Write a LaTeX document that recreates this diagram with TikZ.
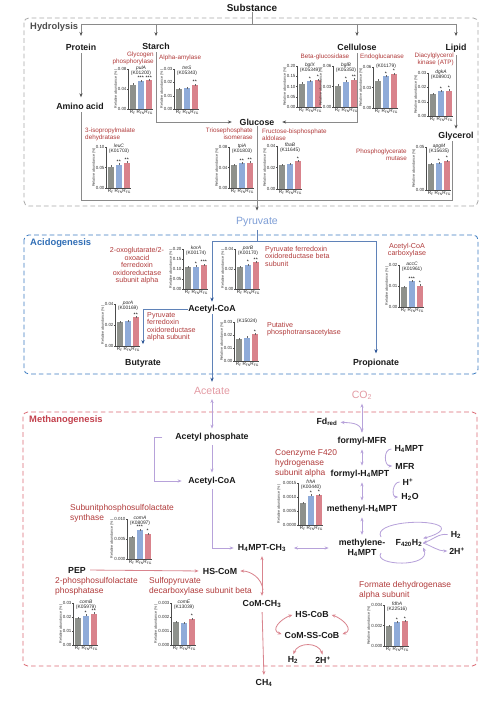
\documentclass[tikz,border=0pt]{standalone}
\usepackage{fontspec}
\setmainfont{Liberation Sans}
\usetikzlibrary{arrows.meta}
\definecolor{enz}{HTML}{B03A3A}
\definecolor{hgray}{HTML}{8A8A8A}
\definecolor{harr}{HTML}{505050}
\definecolor{boxg}{HTML}{A8A8A8}
\definecolor{boxb}{HTML}{3B7BC0}
\definecolor{secb}{HTML}{2F6DB5}
\definecolor{lineb}{HTML}{5F82B8}
\definecolor{arrb}{HTML}{2B5496}
\definecolor{pyrc}{HTML}{7E9ED6}
\definecolor{pinkt}{HTML}{E39AA3}
\definecolor{boxr}{HTML}{DB6A74}
\definecolor{secr}{HTML}{C2404C}
\definecolor{lav}{HTML}{B7A2DA}
\definecolor{pinkl}{HTML}{D9848E}
\definecolor{cg}{HTML}{8E918C}
\definecolor{cb}{HTML}{8FABD9}
\definecolor{cr}{HTML}{D9838C}
\definecolor{txt}{HTML}{1A1A1A}
\def\splitbars#1/#2/#3\relax{\def\brG{#1}\def\brB{#2}\def\brR{#3}}
\def\splitstars#1/#2/#3\relax{\def\stG{#1}\def\stB{#2}\def\stR{#3}}
\newcommand\chart[8][12]{%
\begin{scope}[shift={(#2,#3)}]
\splitbars#6\relax
\splitstars#8\relax
\fill[cg] (1.5,0) rectangle (8,{-\brG*#4});
\fill[cb] (9.5,0) rectangle (16,{-\brB*#4});
\fill[cr] (17.5,0) rectangle (24,{-\brR*#4});
\draw[eb] (4.75,{-\brG*#4+0.8}) -- ++(0,-2);
\draw[eb] (12.75,{-\brB*#4+0.8}) -- ++(0,-2);
\draw[eb] (20.75,{-\brR*#4+0.8}) -- ++(0,-2);
\draw[cax] (0,{-#4}) -- (0,0) -- (25,0);
\foreach \f/\l in {#5}{\draw[cax] (-1,{-\f*#4}) -- (0,{-\f*#4});
  \node[ctk,anchor=east] at (-1.3,{-\f*#4}) {\l};}
\node[crl,rotate=90] at (-#1,{-#4/2}) {Relative abundance (\%)};
\node[cxl] at (4.75,3.4) {R\textsubscript{F}};
\node[cxl] at (12.75,3.4) {R\textsubscript{FN}};
\node[cxl] at (20.75,3.4) {R\textsubscript{FG}};
\node[cgl,anchor=north] at (13,{-#4-3.5}) {#7};
\node[cst] at (4.75,{-\brG*#4-2.8}) {\stG};
\node[cst] at (12.75,{-\brB*#4-2.8}) {\stB};
\node[cst] at (20.75,{-\brR*#4-2.8}) {\stR};
\end{scope}}
\begin{document}
\begin{tikzpicture}[x=0.03cm,y=-0.03cm,>={Stealth[length=3.4pt,width=2.7pt]},
 nd/.style={font=\bfseries\fontsize{7.5}{8.5}\selectfont, inner sep=0.5pt, text=txt},
 subs/.style={font=\bfseries\fontsize{8.5}{9}\selectfont, inner sep=0.5pt, text=txt},
 bigt/.style={font=\fontsize{9}{10}\selectfont, inner sep=0.5pt},
 sect/.style={font=\bfseries\fontsize{8}{9}\selectfont, inner sep=0pt, anchor=west},
 enz/.style={font=\fontsize{5.4}{6.1}\selectfont, text=enz, inner sep=0pt},
 enza/.style={font=\fontsize{6.1}{6.4}\selectfont, text=enz, inner sep=0pt},
 enzm/.style={font=\fontsize{7.2}{8.9}\selectfont, text=enz, inner sep=0pt},
 cax/.style={draw=black!70, line width=0.3pt},
 eb/.style={draw=black!60, line width=0.3pt},
 ctk/.style={font=\fontsize{3.8}{4}\selectfont, inner sep=0pt, text=black!80},
 crl/.style={font=\fontsize{3.1}{3.5}\selectfont, inner sep=0pt, text=black!80},
 cxl/.style={font=\fontsize{4}{4}\selectfont, inner sep=0pt, text=black!85},
 cgl/.style={font=\fontsize{4.2}{4.8}\selectfont, inner sep=0pt, align=center, text=black!85},
 cst/.style={font=\fontsize{4.4}{4.4}\selectfont, inner sep=0pt},
 box/.style={dash pattern=on 4pt off 2.6pt, line width=0.7pt, rounded corners=4pt},
 hl/.style={draw=hgray, line width=0.6pt},
 ha/.style={hl, -{Stealth[length=3.4pt,width=2.7pt,color=harr]}},
 bl/.style={draw=lineb, line width=0.8pt},
 ba/.style={bl, -{Stealth[length=3.6pt,width=2.9pt,color=arrb]}},
 la/.style={draw=lav, line width=0.7pt, ->},
 lb/.style={draw=lav, line width=0.7pt, <->},
 pa/.style={draw=pinkl, line width=0.7pt, ->},
 pb/.style={draw=pinkl, line width=0.7pt, <->}]
\useasboundingbox (0,0) rectangle (500,707);
% ---------- boxes ----------
\draw[box, draw=boxg] (24,18) rectangle (478,206);
\draw[box, draw=boxb] (24,235) rectangle (478,374);
\draw[box, draw=boxr] (23,412) rectangle (477,666);
\node[sect, text=black!70] (hyd) at (30,27) {Hydrolysis};
\node[sect, text=secb] (acg) at (30,243) {Acidogenesis};
\node[sect, text=secr] (mtg) at (29,420) {Methanogenesis};
% ---------- hydrolysis ----------
\node[subs] (sub) at (252,8) {Substance};
\node[nd] (prot) at (81,47) {Protein};
\node[nd] (starch) at (156,46) {Starch};
\node[nd] (cell) at (357,47) {Cellulose};
\node[nd] (lipid) at (456,48) {Lipid};
\node[nd] (amino) at (80,106) {Amino acid};
\node[nd] (gluc) at (257,122) {Glucose};
\node[nd] (glyc) at (456,136) {Glycerol};
\node[bigt, text=pyrc] (pyr) at (257,222) {Pyruvate};
\coordinate (t0) at (252,24);
\coordinate (tL) at (81,24);
\coordinate (tS) at (156,24);
\coordinate (tC) at (357,24);
\coordinate (tR) at (456,24);
\coordinate (bL) at (81,200);
\coordinate (bR) at (452,200);
\draw[hl] (sub.south) -- (t0);
\draw[hl] (tL) -- (tR);
\draw[ha, shorten >=6pt] (tL) -- (prot.north);
\draw[ha, shorten >=5pt] (tS) -- (starch.north);
\draw[ha, shorten >=6pt] (tC) -- (cell.north);
\draw[ha, shorten >=6pt] (tR) -- (lipid.north);
\draw[ha, shorten <=2pt, shorten >=4pt] (prot.south) -- (prot.south|-amino.north);
\draw[hl, shorten <=2pt] (amino.south-|bL) -- (bL) -- (bR) -- (bR|-glyc.south);
\draw[ha, shorten <=2pt, shorten >=6pt] (starch.south) |- (gluc.west);
\draw[ha, shorten <=2pt, shorten >=6pt] (cell.south) |- (gluc.east);
\draw[ha, shorten <=2pt, shorten >=2pt] (lipid.south) -- (glyc.north);
\draw[ha, shorten >=5pt] (gluc.south) -- (gluc.south|-pyr.north);
\node[enz, align=right, anchor=north east] (e1) at (154,51.5) {Glycogen\\phosphorylase};
\node[enz, anchor=west] (e2) at (159,58) {Alpha-amylase};
\node[enz] (e3) at (325,57) {Beta-glucosidase};
\node[enz, anchor=west] (e4) at (360,57) {Endoglucanase};
\node[enz, align=right, anchor=north east] (e5) at (454,53) {Diacylglycerol\\kinase (ATP)};
\node[enz, align=left, anchor=north west] (e6) at (85,128) {3-isopropylmalate\\dehydratase};
\node[enz, align=right, anchor=north east] (e7) at (253,128) {Triosephosphate\\isomerase};
\node[enz, align=left, anchor=north west] (e8) at (262,129) {Fructose-bisphosphate\\aldolase};
\node[enz, align=right, anchor=north east] (e9) at (407,149) {Phosphoglycerate\\mutase};
\chart{128}{109}{40}{1/0.08,0.5/0.04,0/0.00}{0.61/0.70/0.72}{\textit{pulA}\\(K01200)}{/***/***}
\chart{174}{109}{40}{1/0.03,0.667/0.02,0.333/0.01,0/0.00}{0.5/0.53/0.6}{\textit{treS}\\(K05343)}{//**}
\chart{297}{107}{41}{1/0.20,0.75/0.15,0.5/0.10,0.25/0.05,0/0.00}{0.57/0.63/0.66}{\textit{bglX}\\(K05349)}{/*/*}
\chart{333}{107}{41}{1/0.06,0.5/0.03,0/0.00}{0.52/0.62/0.67}{\textit{bglB}\\(K05350)}{/*/**}
\chart{373}{108}{41}{1/0.06,0.5/0.03,0/0.00}{0.67/0.77/0.83}{(K01179)}{/*/*}
\chart{428}{116}{43}{1/0.03,0.667/0.02,0.333/0.01,0/0.00}{0.5/0.58/0.59}{\textit{dgkA}\\(K08901)}{/*/*}
\chart{106}{188}{41}{1/0.10,0.5/0.05,0/0.00}{0.52/0.57/0.62}{\textit{leuC}\\(K01703)}{/**/**}
\chart{229}{188}{41}{1/0.08,0.5/0.04,0/0.00}{0.55/0.6/0.62}{\textit{tpiA}\\(K01803)}{/**/**}
\chart{277}{189}{43}{1/0.04,0.5/0.02,0/0.00}{0.55/0.58/0.65}{\textit{fbaB}\\(K11645)}{//*}
\chart{426}{190}{43}{1/0.05,0/0.00}{0.6/0.62/0.68}{\textit{apgM}\\(K15635)}{/*/*}
% ---------- acidogenesis ----------
\node[nd] (acoa1) at (212,309) {Acetyl-CoA};
\node[nd] (buty) at (143,363) {Butyrate};
\node[nd] (prop) at (376,363) {Propionate};
\node[bigt, text=pinkt] (acet) at (212,391) {Acetate};
\coordinate (pj) at (257,241);
\coordinate (pl) at (212,241);
\coordinate (pr) at (376,241);
\draw[bl, shorten <=2pt] (pyr.south) -- (pj);
\draw[ba, shorten >=2pt] (pl) -- (acoa1.north);
\draw[ba, shorten >=4pt] (pj) -| (prop.north);
\draw[bl] (pj) -- (pl);
\draw[ba, shorten >=12pt] (acoa1.west) -| (buty.north);
\draw[ba, shorten >=4pt] (acoa1.south) -- (acet.north);
\node[enza, align=center] (e10) at (137,266) {2-oxoglutarate/2-\\oxoacid\\ferredoxin\\oxidoreductase\\subunit alpha};
\node[enza, align=left, anchor=north west] (e11) at (265,246) {Pyruvate ferredoxin\\oxidoreductase beta\\subunit};
\node[enza, align=center] (e12) at (407,250) {Acetyl-CoA\\carboxylase};
\node[enza, align=left, anchor=north west] (e13) at (147,312) {Pyruvate\\ferredoxin\\oxidoreductase\\alpha subunit};
\node[enza, align=left, anchor=north west] (e14) at (267,322) {Putative\\phosphotransacetylase};
\chart{183}{289}{40}{1/0.20,0.75/0.15,0.5/0.10,0.25/0.05,0/0.00}{0.55/0.56/0.6}{\textit{korA}\\(K00174)}{/*/***}
\chart{235}{289}{40}{1/0.04,0.5/0.02,0/0.00}{0.55/0.6/0.67}{\textit{porB}\\(K00170)}{/*/**}
\chart{115}{346}{42}{1/0.04,0.5/0.02,0/0.00}{0.56/0.6/0.68}{\textit{porA}\\(K00169)}{//**}
\chart{234}{361}{39}{1/0.03,0.667/0.02,0.333/0.01,0/0.00}{0.56/0.6/0.68}{(K15024)}{//*}
\chart{399}{307}{42}{1/0.02,0.5/0.01,0/0.00}{0.47/0.61/0.51}{\textit{accC}\\(K01961)}{/***/*}
% ---------- methanogenesis ----------
\node[nd] (acp) at (212,437) {Acetyl phosphate};
\node[nd] (acoa2) at (212,481) {Acetyl-CoA};
\node[bigt, text=pinkt] (co2) at (362,395) {CO\textsubscript{2}};
\node[nd] (fd) at (327,422) {Fd\textsubscript{red}};
\node[nd] (fmfr) at (362,441) {formyl-MFR};
\node[nd] (h4) at (409,449) {H\textsubscript{4}MPT};
\node[nd] (mfr) at (405,466) {MFR};
\node[nd] (fh4) at (360,474) {formyl-H\textsubscript{4}MPT};
\node[nd] (hp) at (408,482) {H\textsuperscript{+}};
\node[nd] (h2o) at (410,497) {H\textsubscript{2}O};
\node[nd] (meth) at (362,509) {methenyl-H\textsubscript{4}MPT};
\node[nd, align=center] (mthl) at (362,548) {methylene-\\H\textsubscript{4}MPT};
\node[nd] (f420) at (409,543) {F\textsubscript{420}H\textsubscript{2}};
\node[nd] (h2a) at (456,535) {H\textsubscript{2}};
\node[nd] (hpa) at (457,551) {2H\textsuperscript{+}};
\node[nd] (mch3) at (262,548) {H\textsubscript{4}MPT-CH\textsubscript{3}};
\node[nd] (pep) at (77,570) {PEP};
\node[nd] (hscom) at (220,571) {HS-CoM};
\node[nd] (comch3) at (262,604) {CoM-CH\textsubscript{3}};
\node[nd] (hscob) at (312,614) {HS-CoB};
\node[nd] (comss) at (312,635) {CoM-SS-CoB};
\node[nd] (h2b) at (293,660) {H\textsubscript{2}};
\node[nd] (hpb) at (323,660) {2H\textsuperscript{+}};
\node[nd] (ch4) at (264,683) {CH\textsubscript{4}};
\coordinate (bk) at (154,437);
\coordinate (fdj) at (362,432);
\coordinate (cj) at (263,590);
\draw[lb, shorten <=3pt, shorten >=3pt] (acet.south) -- (acp.north);
\draw[la, shorten <=3pt, shorten >=3pt] (acp.south) -- (acoa2.north);
\draw[la, shorten <=3pt, shorten >=5pt] (acp.west-|bk) ++(12,0) -- (bk) |- (acoa2.west);
\draw[la, shorten <=3pt, shorten >=3pt] (acoa2.south) |- (mch3.west);
\draw[lb, shorten <=3pt, shorten >=3pt] (co2.south) -- (fmfr.north);
\draw[la, shorten >=2pt] (fdj) to[out=95,in=-5] (fd.east);
\draw[lb, shorten <=3pt, shorten >=3pt] (fmfr.south) -- (fmfr.south|-fh4.north);
\draw[la, shorten <=2pt, shorten >=2pt] (h4.west) to[out=180,in=180,looseness=1.6] (mfr.west);
\draw[lb, shorten <=3pt, shorten >=3pt] (fmfr.south|-fh4.south) -- (fmfr.south|-meth.north);
\draw[la, shorten <=2pt, shorten >=2pt] (hp.west) to[out=180,in=180,looseness=1.6] (h2o.west);
\draw[lb, shorten <=3pt, shorten >=3pt] (meth.south) -- (mthl.north);
\draw[lb, shorten <=6pt, shorten >=8pt] (mch3.east) -- (mthl.west);
\draw[la] (381,537) .. controls (372,522) and (432,518) .. (441,527) .. controls (444,532) and (432,536) .. (f420.north east);
\draw[la] (381,553) .. controls (372,566) and (432,568) .. (f420.south east);
\draw[la, shorten <=2pt] (h2a.west) to[out=170,in=20] (f420.east);
\draw[la, shorten >=1pt] (f420.east) to[out=-20,in=180] (hpa.west);
\draw[pb, shorten <=3pt, shorten >=3pt] (mch3.south) -- (comch3.north);
\draw[pa, shorten <=3pt, shorten >=3pt] (pep.east) -- (hscom.west);
\draw[pa, shorten >=2pt] (cj) to[out=95,in=0] (hscom.east);
\draw[pa, shorten <=3pt, shorten >=3pt] (comch3.south) -- (ch4.north);
\draw[pb, shorten <=2pt, shorten >=2pt] (hscob.west) to[out=200,in=160,looseness=1.6] (comss.west);
\draw[pb, shorten <=2pt, shorten >=2pt] (hscob.east) to[out=-20,in=20,looseness=1.6] (comss.east);
\draw[pb, shorten <=1pt, shorten >=1pt] (h2b.north) .. controls (298,642) and (318,642) .. (hpb.north);
\node[enzm, align=left, anchor=north west] (e15) at (275,449) {Coenzyme F420\\hydrogenase\\subunit alpha};
\node[enzm, align=left, anchor=north west] (e16) at (70,504) {Subunitphosphosulfolactate\\synthase};
\node[enzm, align=left, anchor=north west] (e17) at (55,577) {2-phosphosulfolactate\\phosphatase};
\node[enzm, align=left, anchor=north west] (e18) at (149,577) {Sulfopyruvate\\decarboxylase subunit beta};
\node[enzm, align=left, anchor=north west] (e19) at (359,581) {Formate dehydrogenase\\alpha subunit};
\chart[19]{298}{525}{42}{1/0.0015,0.667/0.0010,0.333/0.0005,0/0.0000}{0.53/0.70/0.72}{\textit{frhA}\\(K00440)}{/*/*}
\chart[15]{127}{559}{40}{1/0.010,0.5/0.005,0/0.000}{0.55/0.73/0.63}{\textit{comA}\\(K08097)}{/***/*}
\chart{73}{645}{42}{1/0.03,0.667/0.02,0.333/0.01,0/0.00}{0.65/0.7/0.75}{\textit{comB}\\(K05979)}{/*/**}
\chart[15]{171}{645}{42}{1/0.003,0.667/0.002,0.333/0.001,0/0.000}{0.54/0.53/0.62}{\textit{comE}\\(K13039)}{//*}
\chart[15]{384}{646}{41}{1/0.004,0.5/0.002,0/0.000}{0.48/0.58/0.6}{\textit{fdhA}\\(K22516)}{/*/*}
\end{tikzpicture}
\end{document}
